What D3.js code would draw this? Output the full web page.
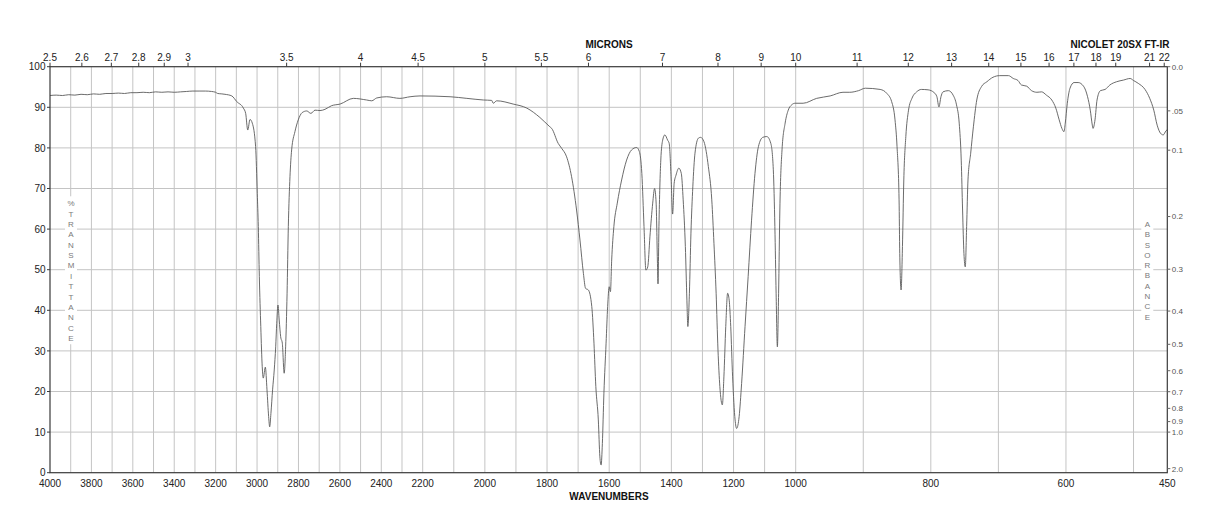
<!DOCTYPE html>
<html>
<head>
<meta charset="utf-8">
<script src="https://cdn.jsdelivr.net/npm/d3@7"></script>
<style>
  html, body { margin: 0; padding: 0; background: #fff; }
  svg { display: block; font-family: "Liberation Sans", Arial, Helvetica, sans-serif; }
</style>
</head>
<body>
<svg id="chart" width="1218" height="528"></svg>
<script>
// ---- data ----
const wavenumbers = [
  4000,3970,3940,3910,3880,3850,3820,3790,3760,3730,3700,3670,3640,3610,3580,3550,3520,3490,3460,3430,
  3400,3370,3340,3310,3280,3250,3220,3200,3190,3170,3155,3122,3098,3066,3055,3045,3034,3023,3007,2999,
  2994,2989,2982,2975,2970,2960,2952,2944,2939,2933,2925,2917,2910,2905,2899,2893,2886,2878,2869,2862,
  2855,2849,2841,2833,2817,2801,2782,2760,2740,2720,2696,2672,2640,2599,2535,2471,2446,2422,2374,2310,
  2261,2213,2112,2058,2005,1978,1973,1962,1909,1865,1823,1791,1785,1764,1753,1737,1721,1705,1694,1683,
  1676,1667,1656,1649,1643,1635,1630,1626,1622,1617,1610,1605,1600,1596,1592,1585,1574,1560,1544,1528,
  1512,1503,1495,1488,1482,1476,1469,1460,1454,1449,1445,1443,1440,1434,1428,1421,1412,1407,1401,1396,
  1391,1385,1376,1368,1362,1355,1350,1347,1342,1337,1331,1324,1313,1306,1295,1281,1270,1263,1256,1250,
  1244,1236,1231,1225,1219,1214,1209,1203,1195,1190,1182,1174,1163,1153,1142,1131,1120,1106,1093,1080,
  1072,1067,1063,1059,1055,1051,1044,1034,1024,1013,1002,989,969,949,930,920,907,897,875,865,
  858,853,850,847,846,844,842,840,837,833,828,821,814,804,795,791,788,785,782,774,
  767,762,758,755,753,751,749,747,745,741,737,732,725,717,708,698,685,678,671,666,
  658,651,643,636,629,621,615,610,606,603,601,598,594,588,582,574,568,564,561,560,
  557,554,549,542,535,525,515,505,500,493,483,476,470,465,460,456,452,450
];
const transmittance = [
  92.9,93.0,92.9,93.1,93.0,93.2,93.1,93.3,93.2,93.4,93.4,93.5,93.4,93.6,93.6,93.7,93.6,93.8,93.7,93.8,
  93.7,93.8,93.9,94.0,94.0,94.0,93.9,93.7,93.4,93.3,93.2,92.8,91.4,89.8,88.5,84.4,87.0,86.1,80.3,68.8,
  60.6,48.3,36.0,26.1,23.3,26.0,20.4,13.8,11.3,14.6,20.4,25.3,31.0,36.8,41.3,37.6,33.5,31.9,24.5,31.0,
  44.2,60.6,72.9,79.5,84.0,86.9,88.7,89.1,88.5,89.3,89.2,89.5,90.4,90.8,92.2,91.8,91.6,92.3,92.6,92.2,
  92.6,92.8,92.6,92.2,91.8,91.7,91.0,91.6,90.8,89.8,87.5,85.2,84.8,81.1,79.9,77.8,72.9,64.7,57.3,49.1,
  45.4,45.0,40.9,31.9,21.2,13.0,3.9,1.9,7.2,19.6,31.9,40.9,45.8,44.6,52.4,60.6,66.4,72.1,77.0,79.5,
  80.1,79.1,73.7,60.6,49.9,50.7,58.1,66.4,70.0,66.4,52.4,46.5,60.6,77.0,81.9,83.2,81.9,81.1,72.9,63.7,
  71.3,73.3,75.0,73.7,67.2,55.7,42.5,36.0,44.2,59.0,70.4,78.7,82.4,82.6,81.5,75.4,67.2,56.5,44.2,30.2,
  21.2,16.7,23.6,36.0,44.2,42.5,36.0,23.6,13.0,10.9,13.8,22.0,36.0,48.3,62.2,73.7,80.3,82.6,82.8,81.1,
  74.6,60.6,44.2,31.0,44.2,64.7,79.5,86.1,89.3,90.6,91.0,91.0,92.2,92.8,93.7,93.7,94.1,94.7,94.4,93.4,
  91.4,86.9,80.3,67.2,54.0,45.0,55.7,72.1,82.8,89.3,92.2,93.8,94.4,94.3,93.6,92.6,90.1,92.6,93.8,94.1,
  93.0,90.6,86.1,77.0,64.7,54.0,50.7,60.6,72.1,78.7,85.2,91.8,95.1,96.3,97.4,97.8,97.8,97.1,96.6,95.5,
  95.2,94.1,93.7,93.8,93.0,91.8,89.8,86.9,84.8,84.0,86.1,91.0,94.7,96.1,96.1,95.2,92.6,89.3,85.6,84.8,
  86.9,91.8,94.1,94.4,95.5,96.3,96.7,97.1,96.6,95.9,94.4,92.2,89.3,85.6,83.6,83.2,84.2,84.5
];
const wnTicks = [4000,3800,3600,3400,3200,3000,2800,2600,2400,2200,2000,1800,1600,1400,1200,1000,800,600,450];
const wnGrid = [3900,3800,3700,3600,3500,3400,3300,3200,3100,3000,2900,2800,2700,2600,2500,2400,2300,2200,2100,2000,
  1900,1800,1700,1600,1500,1400,1300,1200,1100,1000,900,800,700,600,500];
const micronTicks = [2.5,2.6,2.7,2.8,2.9,3,3.5,4,4.5,5,5.5,6,7,8,9,10,11,12,13,14,15,16,17,18,19,21,22];
const tTicks = [0,10,20,30,40,50,60,70,80,90,100];
const absTicks = [0.0,0.05,0.1,0.2,0.3,0.4,0.5,0.6,0.7,0.8,0.9,1.0,2.0];
const absLabels = ["0.0",".05","0.1","0.2","0.3","0.4","0.5","0.6","0.7","0.8","0.9","1.0","2.0"];

// ---- scales ----
const x = d3.scaleLinear().domain([4000,2200,1000,450]).range([50,422.7,795.7,1167.3]);
const y = d3.scaleLinear().domain([0,100]).range([472.7,66.7]);
const x0 = x(4000), x1 = x(450), yTop = y(100), yBot = y(0);

const svg = d3.select("#chart");
const gridColor = "#c4c4c4";
const axisColor = "#3a3a3a";

// grid
svg.append("g").selectAll("line").data(wnGrid).join("line")
  .attr("x1", d => x(d)).attr("x2", d => x(d)).attr("y1", yTop).attr("y2", yBot)
  .attr("stroke", gridColor).attr("stroke-width", 1);
svg.append("g").selectAll("line").data(tTicks.filter(d => d > 0 && d < 100)).join("line")
  .attr("x1", x0).attr("x2", x1).attr("y1", d => y(d)).attr("y2", d => y(d))
  .attr("stroke", gridColor).attr("stroke-width", 1);

// side vertical captions with white backing
function stackText(str, cx, yStart, step) {
  const chars = Array.from(str);
  svg.append("rect").attr("x", cx - 6).attr("y", yStart - 7).attr("width", 12)
    .attr("height", step * (chars.length - 1) + 13).attr("fill", "#fff");
  svg.append("g").selectAll("text").data(chars).join("text")
    .attr("x", cx).attr("y", (d, i) => yStart + i * step + 2.9)
    .attr("text-anchor", "middle").attr("font-size", 8).attr("fill", "#7a7a7a").text(d => d);
}
stackText("%TRANSMITTANCE", 71, 203.3, 10.38);
stackText("ABSORBANCE", 1147.3, 224, 10.3);

// spectrum
const pts = wavenumbers.map((w, i) => [w, transmittance[i]]);
svg.append("path").datum(pts)
  .attr("d", d3.line().x(d => x(d[0])).y(d => y(d[1])).curve(d3.curveMonotoneX))
  .attr("fill", "none").attr("stroke", "#5a5a5a").attr("stroke-width", 0.9);

// frame
svg.append("rect").attr("x", x0).attr("y", yTop).attr("width", x1 - x0).attr("height", yBot - yTop)
  .attr("fill", "none").attr("stroke", axisColor).attr("stroke-width", 1.2);

// bottom axis labels
svg.append("g").selectAll("text").data(wnTicks).join("text")
  .attr("x", d => x(d)).attr("y", yBot + 14.5).attr("text-anchor", "middle")
  .attr("font-size", 10).attr("fill", "#222").text(d => d);

// left axis
const gl = svg.append("g");
gl.selectAll("line").data(tTicks).join("line")
  .attr("x1", x0 - 3).attr("x2", x0).attr("y1", d => y(d)).attr("y2", d => y(d))
  .attr("stroke", axisColor);
gl.selectAll("text").data(tTicks).join("text")
  .attr("x", x0 - 4.5).attr("y", d => y(d) + 3.6).attr("text-anchor", "end")
  .attr("font-size", 10).attr("fill", "#222").text(d => d);

// top micron axis
const gt = svg.append("g");
gt.selectAll("line").data(micronTicks).join("line")
  .attr("x1", d => x(10000 / d)).attr("x2", d => x(10000 / d))
  .attr("y1", yTop - 4).attr("y2", yTop).attr("stroke", axisColor);
gt.selectAll("text").data(micronTicks).join("text")
  .attr("x", d => x(10000 / d)).attr("y", yTop - 5.5).attr("text-anchor", "middle")
  .attr("font-size", 10).attr("fill", "#222").text(d => d);

// right absorbance axis
const gr = svg.append("g");
const yA = a => y(100 * Math.pow(10, -a));
gr.selectAll("line").data(absTicks).join("line")
  .attr("x1", x1).attr("x2", x1 + 3).attr("y1", d => yA(d)).attr("y2", d => yA(d))
  .attr("stroke", "#666");
gr.selectAll("text").data(absTicks).join("text")
  .attr("x", x1 + 4.5).attr("y", d => yA(d) + 2.9)
  .attr("font-size", 8).attr("fill", "#555").text((d, i) => absLabels[i]);

// titles
svg.append("text").attr("x", 609).attr("y", 48.3).attr("text-anchor", "middle")
  .attr("font-size", 10).attr("font-weight", "bold").attr("fill", "#111").text("MICRONS");
svg.append("text").attr("x", 1120).attr("y", 48.3).attr("text-anchor", "middle")
  .attr("font-size", 10).attr("font-weight", "bold").attr("fill", "#111").text("NICOLET 20SX FT-IR");
svg.append("text").attr("x", 609).attr("y", 500.3).attr("text-anchor", "middle")
  .attr("font-size", 10).attr("font-weight", "bold").attr("fill", "#111").text("WAVENUMBERS");
</script>
</body>
</html>
